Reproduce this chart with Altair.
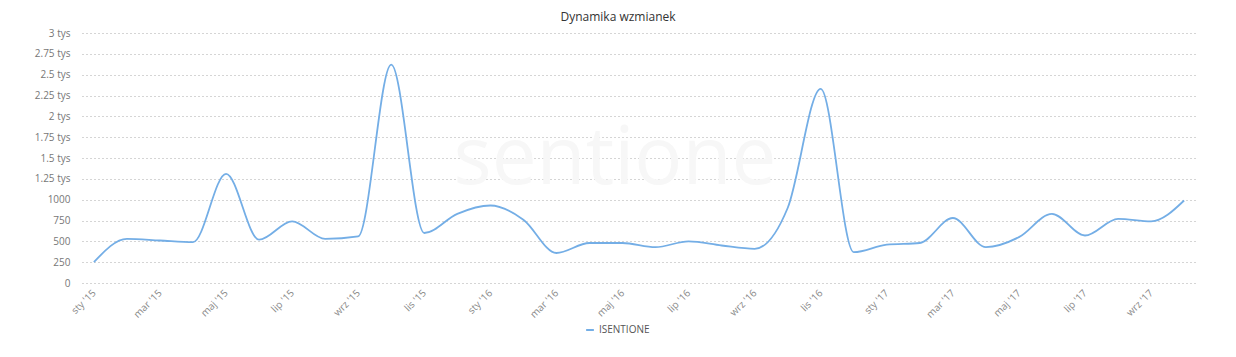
import altair as alt
import pandas as pd

months = ["sty", "lut", "mar", "kwi", "maj", "cze", "lip", "sie", "wrz", "paź", "lis", "gru"]
labels = []
for yr in ["15", "16", "17"]:
    for m in months:
        labels.append(f"{m} '{yr}")
labels = labels[:34]  # Jan 2015 .. Oct 2017

values = [250, 530, 510, 490, 1310, 520, 740, 530, 560, 2620,
          600, 830, 930, 760, 360, 480, 480, 430, 500, 450,
          410, 900, 2330, 370, 460, 480, 780, 430, 550, 830,
          570, 770, 740, 990]

series = ["ISENTIONE"] * len(values)
tick_labels = labels[::2]
y_ticks = [0, 250, 500, 750, 1000, 1250, 1500, 1750, 2000, 2250, 2500, 2750, 3000]

df = pd.DataFrame({"month": labels, "value": values, "series": series})

FONT = "Open Sans"

line = alt.Chart(df).mark_line(interpolate="monotone", strokeWidth=1.8).encode(
    x=alt.X("month:N", sort=labels, title=None,
            scale=alt.Scale(type="point", padding=0.36),
            axis=alt.Axis(values=tick_labels, labelAngle=-45, labelAlign="right",
                          labelBaseline="middle", labelPadding=8, ticks=False, domain=False,
                          grid=False, labelColor="#888", labelFontSize=10, labelFont=FONT)),
    y=alt.Y("value:Q", title=None,
            scale=alt.Scale(domain=[0, 3000], nice=False),
            axis=alt.Axis(values=y_ticks, ticks=False, domain=False, labelPadding=12,
                          labelColor="#777", labelFontSize=10, labelFont=FONT,
                          gridColor="#aaaaaa", gridDash=[1, 3], gridWidth=1,
                          labelExpr="datum.value >= 1250 ? (datum.value/1000) + ' tys' : datum.value")),
    color=alt.Color("series:N", scale=alt.Scale(range=["#74aee6"]),
                    legend=alt.Legend(title=None, orient="none", legendX=503, legendY=292,
                                      symbolType="stroke", symbolStrokeWidth=2, symbolSize=60,
                                      labelFont=FONT, labelFontSize=10, labelColor="#555")),
)

watermark = alt.Chart(pd.DataFrame({"t": ["sentione"]})).mark_text(
    fontSize=80, font=FONT, color="#f7f7f7", fontWeight="normal"
).encode(x=alt.value(533), y=alt.value(127), text="t:N")

chart = alt.layer(watermark, line).properties(
    width=1114, height=250,
    title=alt.TitleParams("Dynamika wzmianek", font=FONT, fontSize=12, fontWeight="normal",
                          color="#333", anchor="middle", dx=-21, offset=4),
    autosize=alt.AutoSizeParams(type="none"),
    padding={"left": 82, "top": 33, "right": 40, "bottom": 74},
).configure_view(stroke=None)

chart.save("out.html", embed_options={"renderer": "svg", "actions": False})
